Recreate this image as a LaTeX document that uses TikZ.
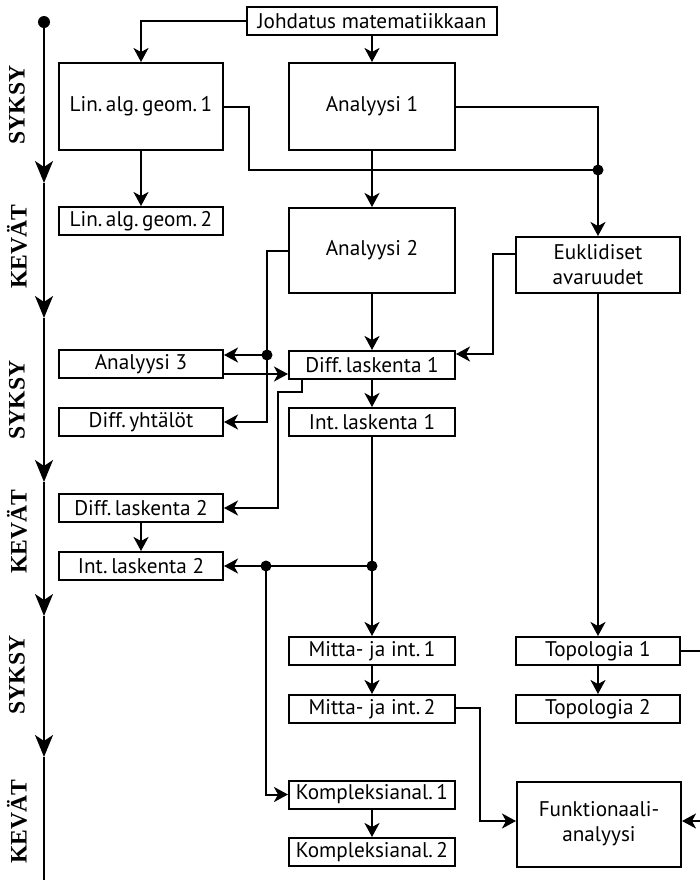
\documentclass[tikz,border=0pt]{standalone}
\usepackage{fontspec}
\setmainfont{PT Sans}
\newfontfamily\lblfont{Liberation Serif}
\usetikzlibrary{arrows.meta}
\tikzset{
  box/.style={draw, line width=1pt, inner sep=0pt, align=center, font=\fontsize{10.6}{12.5}\selectfont},
  lbox/.style={box, minimum width=82pt, minimum height=14pt},
  mbox/.style={box, minimum width=83pt, minimum height=14pt},
  arr/.style={line width=1pt, -{Stealth[length=7pt, width=7.5pt, inset=2pt]}},
  ln/.style={line width=1pt},
  tarr/.style={line width=1pt, -{Stealth[length=11pt, width=9pt, inset=3pt]}},
  dot/.style={circle, fill, inner sep=0pt, minimum size=5.5pt},
  sem/.style={rotate=90, font=\lblfont\bfseries\fontsize{11.8}{14}\selectfont}
}
\begin{document}
\begin{tikzpicture}[x=0.5pt, y=-0.5pt]
\useasboundingbox (0,0) rectangle (700,880);
% timeline
\node[dot, minimum size=6pt] (t0) at (44,22) {};
\coordinate (t1) at (44,183);
\coordinate (t2) at (44,318);
\coordinate (t3) at (44,482);
\coordinate (t4) at (44,616);
\coordinate (t5) at (44,757);
\coordinate (t6) at (44,890);
\draw[tarr] (t0.center) -- (t1);
\draw[tarr] (t1) -- (t2);
\draw[tarr] (t2) -- (t3);
\draw[tarr] (t3) -- (t4);
\draw[tarr] (t4) -- (t5);
\draw[ln] (t5) -- (t6);
\node[sem] (s1) at (17,105) {SYKSY};
\node[sem] (k1) at (17,247) {KEVÄT};
\node[sem] (s2) at (17,400) {SYKSY};
\node[sem] (k2) at (17,532) {KEVÄT};
\node[sem] (s3) at (17,675) {SYKSY};
\node[sem] (k3) at (17,822) {KEVÄT};
% boxes
\node[box, minimum width=125pt, minimum height=14pt] (johd) at (372,21) {Johdatus matematiikkaan};
\node[lbox, minimum height=43.5pt] (lag1) at (141,106.5) {Lin.\,alg.\,geom.\,1};
\node[mbox, minimum height=43.5pt] (an1) at (372,106.5) {Analyysi 1};
\node[lbox] (lag2) at (141,221) {Lin.\,alg.\,geom.\,2};
\node[mbox, minimum height=42.5pt] (an2) at (372,250.5) {Analyysi 2};
\node[lbox, minimum height=28pt] (euk) at (598,265) {Euklidiset\\avaruudet};
\node[lbox] (an3) at (141,364) {Analyysi 3};
\node[mbox] (dl1) at (372,365) {Diff.\,laskenta 1};
\node[lbox] (dy) at (141,422) {Diff.\,yhtälöt};
\node[mbox] (il1) at (372,422) {Int.\,laskenta 1};
\node[lbox] (dl2) at (141,508) {Diff.\,laskenta 2};
\node[lbox] (il2) at (141,566) {Int.\,laskenta 2};
\node[mbox] (mi1) at (372,651) {Mitta- ja int.\,1};
\node[mbox] (mi2) at (372,709) {Mitta- ja int.\,2};
\node[lbox] (to1) at (598,651) {Topologia 1};
\node[lbox] (to2) at (598,709) {Topologia 2};
\node[mbox] (ko1) at (372,794.5) {Kompleksianal.\,1};
\node[mbox] (ko2) at (372,852) {Kompleksianal.\,2};
\node[lbox, minimum height=42.5pt] (fa) at (599,824) {Funktionaali-\\analyysi};
% junctions
\node[dot] (j1) at (598,170) {};
\node[dot] (j2) at (267,355) {};
\coordinate (j3) at (278,392);
\node[dot] (j4) at (372,566) {};
\node[dot] (j5) at (266,566) {};
% connectors
\draw[arr] (johd.west) -| (lag1.north);
\draw[arr] (johd.south) -- (an1.north);
\draw[ln] (lag1.east) -- ++(12.5pt,0) |- (j1.center);
\draw[ln] (an1.east) -| (j1.center);
\draw[arr] (j1.center) -- (euk.north);
\draw[arr] (an1.south) -- (an2.north);
\draw[arr] (lag1.south) -- (lag2.north);
\draw[ln] (an2.west) -| (j2.center);
\draw[arr] (j2.center) -- (an3.east |- j2.center);
\draw[arr] (j2.center) |- (dy.east);
\draw[arr] ([yshift=-5pt]an3.east) -- ([yshift=-5pt]an3.east -| dl1.west);
\draw[arr] (an2.south) -- (dl1.north);
\draw[arr] ([yshift=5.5pt]euk.west) -- ++(-11pt,0) |- ([yshift=5.5pt]dl1.east);
\draw[arr] ([xshift=7pt]dl1.south west) |- (j3) |- (dl2.east);
\draw[arr] (dl1.south) -- (il1.north);
\draw[arr] (dl2.south) -- (il2.north);
\draw[ln] (il1.south) -- (j4.center);
\draw[arr] (j4.center) -- (mi1.north);
\draw[arr] (j4.center) -- (il2.east);
\draw[arr] (j5.center) |- (ko1.west);
\draw[arr] (mi1.south) -- (mi2.north);
\draw[arr] ([yshift=0.5pt]mi2.east) -- ++(12pt,0) |- ([yshift=1.5pt]fa.west);
\draw[arr] (euk.south) -- (to1.north);
\draw[arr] (to1.south) -- (to2.north);
\draw[arr] (to1.east) -- ++(25pt,0) |- ([yshift=1.5pt]fa.east);
\draw[arr] (ko1.south) -- (ko2.north);
\end{tikzpicture}
\end{document}
